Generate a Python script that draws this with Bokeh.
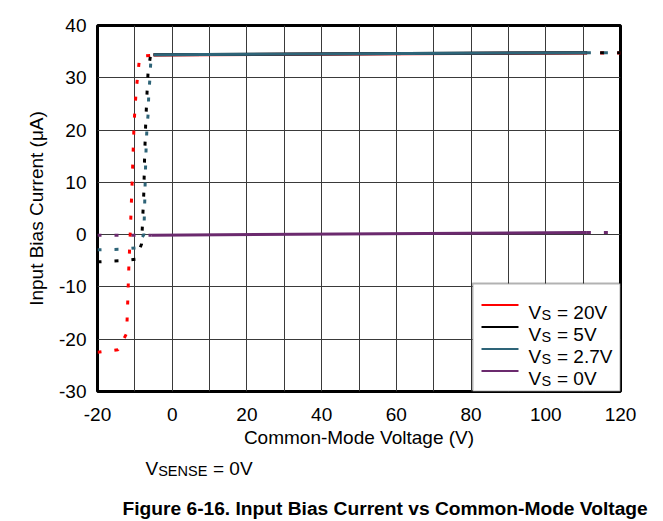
from bokeh.plotting import figure
from bokeh.models import Label, BoxAnnotation, FixedTicker, Range1d
from bokeh.layouts import column
from bokeh.embed import file_html
from bokeh.resources import INLINE

# ---------------- data ----------------
x_ticks = [-20, 0, 20, 40, 60, 80, 100, 120]
y_ticks = [-30, -20, -10, 0, 10, 20, 30, 40]
x_grid = [-20, -10, 0, 10, 20, 30, 40, 50, 60, 70, 80, 90, 100, 110, 120]
y_grid = [-30, -20, -10, 0, 10, 20, 30, 40]

series_names = ["20V", "5V", "2.7V", "0V"]
series_colors = ["#FF0000", "#000000", "#2E6478", "#6B2A6E"]

# Vs = 20V
vs20_left_x = [-20, -14.5, -12.2, -11.9, -11.6, -11.2, -10.7, -10.2, -9.65, -9.2, -8.7, -5]
vs20_left_y = [-22.5, -22.0, -18.9, -12.6, -5.9, 0.8, 10.6, 21.5, 27.5, 30.7, 34.1, 34.3]
vs20_mid_x = [-5, 110]
vs20_mid_y = [34.35, 34.75]
vs20_right_x = [110, 120]
vs20_right_y = [34.75, 34.75]

# Vs = 5V
vs5_left_x = [-20, -14, -9.8, -8.2, -8.0, -7.6, -7.4, -7.1, -6.7, -6.45, -5.8, -5]
vs5_left_y = [-5.2, -5.0, -4.7, -1.8, 1.4, 8.1, 14.6, 21.2, 27.8, 31.2, 34.3, 34.4]
vs5_mid_x = [-5, 110]
vs5_mid_y = [34.4, 34.8]
vs5_right_x = [110, 120]
vs5_right_y = [34.8, 34.8]

# Vs = 2.7V
vs27_left_x = [-20, -14, -9.8, -7.6, -7.35, -7.2, -7.0, -6.8, -6.45, -6.3, -6.0, -5.75, -5]
vs27_left_y = [-2.9, -2.8, -2.55, 0.0, 6.5, 11.3, 16.3, 19.8, 23.1, 26.4, 29.6, 32.9, 34.4]
vs27_mid_x = [-5, 111]
vs27_mid_y = [34.4, 34.8]
vs27_right_x = [111, 120]
vs27_right_y = [34.8, 34.8]

# Vs = 0V
vs0_left_x = [-20, -5.5]
vs0_left_y = [-0.1, -0.1]
vs0_mid_x = [-5.5, 111]
vs0_mid_y = [-0.1, 0.4]
vs0_right_x = [111, 120]
vs0_right_y = [0.4, 0.4]

# ---------------- layout (page pixel geometry) ----------------
W = 655
H1, H2 = 454, 67
FL, FR, FT, FB = 97, 620, 25, 391   # frame edges in page px
FONT = "Liberation Sans"

p = figure(width=W, height=H1, output_backend="svg", toolbar_location=None, title=None,
           x_range=Range1d(-20, 120), y_range=Range1d(-30, 40),
           min_border_left=FL, min_border_right=W - FR,
           min_border_top=FT, min_border_bottom=H1 - FB)
p.frame_align = False
p.background_fill_color = "white"
p.border_fill_color = "white"
p.outline_line_color = "black"
p.outline_line_width = 3

p.xaxis.ticker = FixedTicker(ticks=x_ticks)
p.yaxis.ticker = FixedTicker(ticks=y_ticks)
p.xaxis.major_label_overrides = {t: str(t) for t in x_ticks}
p.yaxis.major_label_overrides = {t: str(t) for t in y_ticks}
p.xgrid.ticker = FixedTicker(ticks=x_grid)
p.ygrid.ticker = FixedTicker(ticks=y_grid)
for g in (p.xgrid, p.ygrid):
    g.grid_line_color = "#3a3a3a"
    g.grid_line_width = 1

for ax in (p.xaxis, p.yaxis):
    ax.axis_line_color = None
    ax.major_tick_line_color = None
    ax.minor_tick_line_color = None
    ax.major_tick_out = 0
    ax.major_tick_in = 0
    ax.major_label_text_font = FONT
    ax.major_label_text_font_size = "19px"
    ax.major_label_text_color = "black"
    ax.axis_label_text_font = FONT
    ax.axis_label_text_font_size = "19px"
    ax.axis_label_text_font_style = "normal"
    ax.axis_label_text_color = "black"

p.xaxis.axis_label = "Common-Mode Voltage (V)"
p.yaxis.axis_label = "Input Bias Current (\u03bcA)"
p.xaxis.major_label_standoff = 16
p.yaxis.major_label_standoff = 11
p.xaxis.axis_label_standoff = 3
p.yaxis.axis_label_standoff = 9

DASH = "4 13"
data = [
    (vs20_left_x, vs20_left_y, vs20_mid_x, vs20_mid_y, vs20_right_x, vs20_right_y),
    (vs5_left_x, vs5_left_y, vs5_mid_x, vs5_mid_y, vs5_right_x, vs5_right_y),
    (vs27_left_x, vs27_left_y, vs27_mid_x, vs27_mid_y, vs27_right_x, vs27_right_y),
    (vs0_left_x, vs0_left_y, vs0_mid_x, vs0_mid_y, vs0_right_x, vs0_right_y),
]
for (lx, ly, mx, my, rx, ry), col in zip(data, series_colors):
    p.line(lx, ly, line_color=col, line_width=3, line_dash=DASH)
    p.line(mx, my, line_color=col, line_width=3)
    p.line(rx, ry, line_color=col, line_width=3, line_dash=DASH)


def add_text(fig, text, x, y, size, bold=False):
    fig.add_layout(Label(x=x, y=y, x_units="screen", y_units="screen",
                         text=text, text_font=FONT, text_font_size=size,
                         text_font_style="bold" if bold else "normal",
                         text_align="left", text_baseline="alphabetic",
                         text_color="black"))


def sx(px):
    return px - FL


def sy(py):
    return FB - py


# legend (manual, to allow subscripts)
p.add_layout(BoxAnnotation(left=sx(472), right=sx(620), top=sy(283), bottom=sy(391),
                           left_units="screen", right_units="screen",
                           top_units="screen", bottom_units="screen",
                           fill_color="white", fill_alpha=1.0,
                           line_color="black", line_width=2))
for i, (name, col) in enumerate(zip(series_names, series_colors)):
    yc = 304.5 + 22 * i
    p.add_layout(BoxAnnotation(left=sx(481), right=sx(518), top=sy(yc - 1.1), bottom=sy(yc + 1.1),
                               left_units="screen", right_units="screen",
                               top_units="screen", bottom_units="screen",
                               fill_color=col, fill_alpha=1.0, line_alpha=0))
    base = 311.7 + 22 * i
    add_text(p, "V", sx(528), sy(base), "19px")
    add_text(p, "S", sx(541), sy(base + 2.5), "14.5px")
    add_text(p, "= " + name, sx(556.5), sy(base), "19px")

# notes below the chart (second, axis-less figure)
p2 = figure(width=W, height=H2, output_backend="svg", toolbar_location=None, title=None,
            x_range=Range1d(0, W), y_range=Range1d(0, H2),
            x_axis_location=None, y_axis_location=None,
            min_border_left=0, min_border_right=0, min_border_top=0, min_border_bottom=0)
p2.frame_align = False
p2.grid.visible = False
p2.outline_line_color = None
p2.background_fill_color = "white"
p2.border_fill_color = "white"

P2_BOTTOM = H1 + H2 + 8.5   # page y of the lower figure's frame bottom (measured)


def sy2(py):
    return P2_BOTTOM - py


add_text(p2, "V", 145, sy2(476), "19px")
add_text(p2, "SENSE", 157.7, sy2(479), "14.5px")
add_text(p2, "= 0V", 212.5, sy2(476), "19px")
add_text(p2, "Figure 6-16. Input Bias Current vs Common-Mode Voltage", 122, sy2(516), "19.2px", bold=True)

layout = column(p, p2, spacing=0)
open("out.html", "w").write(file_html(layout, INLINE))
